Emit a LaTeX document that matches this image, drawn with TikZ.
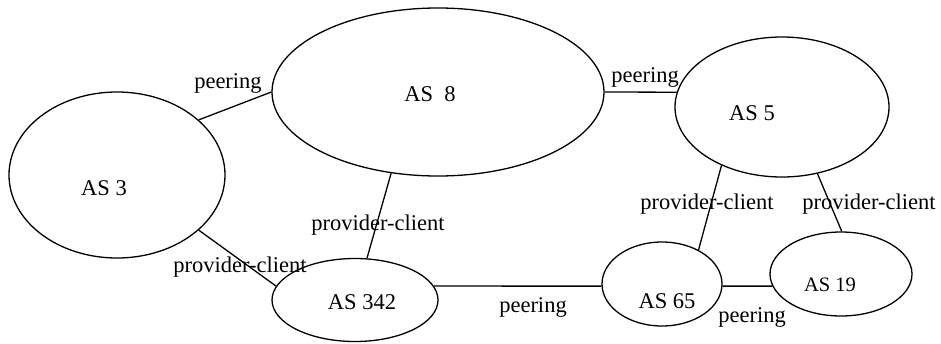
\documentclass[tikz,border=0pt]{standalone}
\usepackage{fontspec}
\setmainfont{Liberation Serif}
\usetikzlibrary{shapes.geometric}
\begin{document}
\begin{tikzpicture}[x=1pt,y=-1pt,
  asnode/.style={draw, ellipse, line width=1.3pt, inner sep=0pt},
  lbl/.style={font=\fontsize{22.5}{27}\selectfont, anchor=base, inner sep=0pt},
  small/.style={font=\fontsize{20.5}{25}\selectfont, anchor=base, inner sep=0pt},
  link/.style={line width=1.3pt}]
\useasboundingbox (0,0) rectangle (941,343);
% ellipses
\node[asnode, minimum width=216pt, minimum height=166pt] (as3) at (117,175) {};
\node[asnode, minimum width=332pt, minimum height=168pt] (as8) at (438,92) {};
\node[asnode, minimum width=214pt, minimum height=140pt] (as5) at (782,107) {};
\node[asnode, minimum width=166pt, minimum height=83pt] (as342) at (355,300) {};
\node[asnode, minimum width=120pt, minimum height=84pt] (as65) at (662,284) {};
\node[asnode, minimum width=142pt, minimum height=84pt] (as19) at (841,274) {};
% names
\node[lbl] (t3) at (104,195) {AS 3};
\node[lbl] (t8) at (430,101) {AS\ \ 8};
\node[lbl] (t5) at (752,120) {AS 5};
\node[lbl] (t342) at (362,309) {AS 342};
\node[lbl] (t65) at (667,308) {AS 65};
\node[small] (t19) at (830,291) {AS 19};
% links
\draw[link] (as3.34) -- (as8.180);
\draw[link] (as3.-34) -- (as342.170);
\draw[link] (as8.0) -- (as5.172);
\draw[link] (as8.-120) -- (as342.74);
\draw[link] (as342.10) -- (as65.182);
\draw[link] (as5.-136) -- (as65.43);
\draw[link] (as5.-62) -- (as19.89);
\draw[link] (as65.-2) -- (as19.-170);
% link labels
\node[lbl] (l1) at (228,88) {peering};
\node[lbl] (l2) at (645,82) {peering};
\node[lbl] (l3) at (378,230) {provider-client};
\node[lbl] (l4) at (240,272) {provider-client};
\node[lbl] (l5) at (533,312) {peering};
\node[lbl] (l6) at (707,209) {provider-client};
\node[lbl] (l7) at (869,209) {provider-client};
\node[lbl] (l8) at (752,322) {peering};
\end{tikzpicture}
\end{document}
